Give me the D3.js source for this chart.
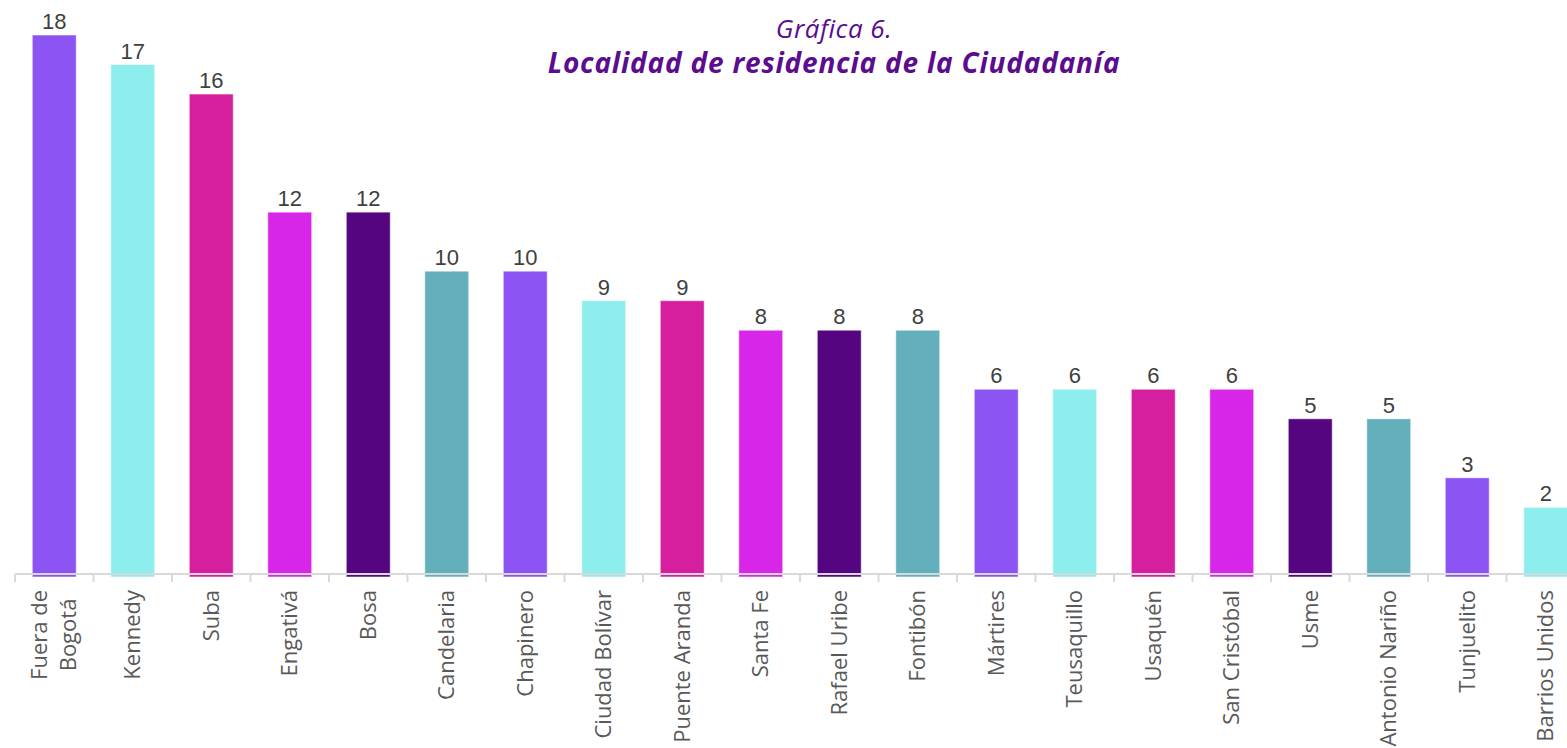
<!DOCTYPE html>
<html>
<head>
<meta charset="utf-8">
<script src="https://cdn.jsdelivr.net/npm/d3@7"></script>
<style>
    body { margin: 0; background: #fff; }
    #chart { width: 1567px; height: 748px; }
</style>
</head>
<body>
<div id="chart"></div>
<script>
// data
let localidades = ["Fuera de\nBogotá", "Kennedy", "Suba", "Engativá", "Bosa", "Candelaria", "Chapinero",
    "Ciudad Bolívar", "Puente Aranda", "Santa Fe", "Rafael Uribe", "Fontibón", "Mártires", "Teusaquillo",
    "Usaquén", "San Cristóbal", "Usme", "Antonio Nariño", "Tunjuelito", "Barrios Unidos"];
let valores = [18, 17, 16, 12, 12, 10, 10, 9, 9, 8, 8, 8, 6, 6, 6, 6, 5, 5, 3, 2];
let paleta = ["#8c54f2", "#8eeeed", "#d61f9e", "#d826e8", "#54057f", "#64afbc"];

let titulo1 = "Gráfica 6.";
let titulo2 = "Localidad de residencia de la Ciudadanía";

let width = 1567, height = 748;

let svg = d3.select("#chart").append("svg")
    .attr("width", width)
    .attr("height", height);

// scales
let x = d3.scaleBand()
    .domain(localidades)
    .range([15, 15 + 78.5 * localidades.length])
    .paddingInner(0.44)
    .paddingOuter(0.22);

let y = d3.scaleLinear()
    .domain([-0.36, 18])
    .range([577, 35]);

let color = d3.scaleOrdinal()
    .domain(localidades)
    .range(paleta);

let data = localidades.map((d, i) => ({cat: d, val: valores[i]}));

// bars
svg.append("g")
    .selectAll("rect")
    .data(data)
    .join("rect")
    .attr("x", d => x(d.cat))
    .attr("y", d => y(d.val))
    .attr("width", x.bandwidth())
    .attr("height", d => y.range()[0] - y(d.val))
    .attr("fill", d => color(d.cat))
    .attr("stroke", "#fff")
    .attr("stroke-opacity", 0.55)
    .attr("stroke-width", 1);

// axis line + ticks at band edges
let axisY = 574;
let axis = svg.append("g").attr("class", "x-axis");
axis.append("line")
    .attr("x1", x.range()[0])
    .attr("x2", x.range()[1])
    .attr("y1", axisY)
    .attr("y2", axisY)
    .attr("stroke", "#d9d9d9")
    .attr("stroke-width", 2);
axis.selectAll(".tick")
    .data(d3.range(localidades.length + 1))
    .join("line")
    .attr("class", "tick")
    .attr("x1", i => x.range()[0] + i * x.step())
    .attr("x2", i => x.range()[0] + i * x.step())
    .attr("y1", axisY)
    .attr("y2", axisY + 8)
    .attr("stroke", "#d9d9d9")
    .attr("stroke-width", 2);

// value labels
svg.append("g")
    .selectAll("text")
    .data(data)
    .join("text")
    .attr("x", d => x(d.cat) + x.bandwidth() / 2)
    .attr("y", d => y(d.val) - 6)
    .attr("text-anchor", "middle")
    .attr("font-family", "Liberation Sans, Arial, sans-serif")
    .attr("font-size", "22px")
    .attr("fill", "#404040")
    .text(d => d.val);

// category labels (rotated)
let lineGap = 29;
let labels = svg.append("g")
    .selectAll("g")
    .data(data)
    .join("g")
    .attr("transform", d => `translate(${x(d.cat) + x.bandwidth() / 2}, 590) rotate(-90)`);

labels.each(function (d) {
    let g = d3.select(this);
    let lines = d.cat.split("\n");
    let texts = lines.map((l, i) => g.append("text")
        .attr("y", (i - (lines.length - 1) / 2) * lineGap)
        .attr("dy", "0.35em")
        .attr("text-anchor", "middle")
        .attr("font-family", "Open Sans, sans-serif")
        .attr("font-size", "22px")
        .attr("fill", "#595959")
        .text(l));
    let w = d3.max(texts, t => t.node().getComputedTextLength());
    texts.forEach(t => t.attr("x", -w / 2));
});

// title
svg.append("text")
    .attr("x", 834)
    .attr("y", 38)
    .attr("text-anchor", "middle")
    .attr("font-family", "Open Sans, sans-serif")
    .attr("font-style", "italic")
    .attr("font-size", "26px")
    .attr("letter-spacing", "0.5px")
    .attr("fill", "#5b0c8f")
    .text(titulo1);

svg.append("text")
    .attr("x", 834)
    .attr("y", 73)
    .attr("text-anchor", "middle")
    .attr("font-family", "Open Sans, sans-serif")
    .attr("font-style", "italic")
    .attr("font-weight", "bold")
    .attr("font-size", "28px")
    .attr("letter-spacing", "0.8px")
    .attr("fill", "#5b0c8f")
    .text(titulo2);
</script>
</body>
</html>
